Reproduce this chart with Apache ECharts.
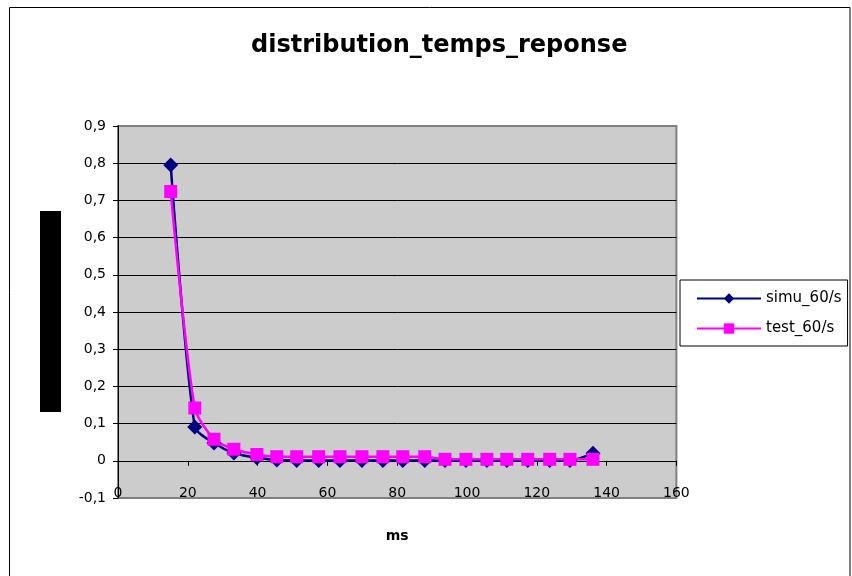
<!DOCTYPE html>
<html>
<head>
<meta charset="utf-8">
<title>distribution_temps_reponse</title>
<script src="https://cdn.jsdelivr.net/npm/echarts@6/dist/echarts.min.js"></script>
<style>
  html, body { margin: 0; padding: 0; background: #ffffff; }
  #chart { width: 852px; height: 576px; }
</style>
</head>
<body>
<div id="chart"></div>
<script>
// Response time bins (ms)
const responseTimes = [15.1, 22.0, 27.5, 33.2, 39.8, 45.5, 51.2, 57.5, 63.6, 69.9, 75.9,
  81.6, 87.9, 93.7, 99.7, 105.7, 111.4, 117.4, 123.7, 129.5, 136.1];

// Share of requests per bin
const simu60 = [0.795, 0.091, 0.048, 0.021, 0.008, 0.002, 0.001, 0.001, 0.001, 0.001, 0.001,
  0.001, 0.001, 0.001, 0.001, 0.001, 0.001, 0.001, 0.001, 0.001, 0.020];
const test60 = [0.724, 0.142, 0.058, 0.031, 0.017, 0.011, 0.011, 0.011, 0.011, 0.011, 0.011,
  0.011, 0.011, 0.004, 0.004, 0.004, 0.004, 0.004, 0.004, 0.004, 0.004];

const seriesNames = ['simu_60/s', 'test_60/s'];
const titleText = 'distribution_temps_reponse';
const xAxisTitle = 'ms';

const toPairs = (ys) => responseTimes.map((x, i) => [x, ys[i]]);
const fmtDecimal = (v) => {
  const r = Math.round(v * 10) / 10;
  return r === 0 ? '0' : r.toFixed(1).replace('.', ',');
};

const labelFont = 'DejaVu Sans, sans-serif';
const chart = echarts.init(document.getElementById('chart'), null, { renderer: 'canvas' });

chart.setOption({
  backgroundColor: '#ffffff',
  animation: false,
  title: {
    text: titleText,
    left: 251,
    top: 34,
    padding: 0,
    textStyle: { fontFamily: 'DejaVu Sans, sans-serif', fontWeight: 'bold', fontSize: 24, color: '#000' }
  },
  legend: {
    orient: 'vertical',
    left: 680,
    top: 280,
    padding: [11, 6, 10, 16],
    itemWidth: 64,
    itemHeight: 13,
    itemGap: 15,
    borderColor: '#000',
    borderWidth: 1,
    borderRadius: 0,
    textStyle: { fontFamily: labelFont, fontSize: 15, color: '#000' },
    data: seriesNames
  },
  grid: {
    left: 118,
    right: 175.6,
    top: 126,
    bottom: 78,
    show: true,
    backgroundColor: '#cccccc',
    borderColor: '#808080',
    borderWidth: 2
  },
  xAxis: [
    {
      type: 'value',
      min: 0,
      max: 160,
      interval: 20,
      name: xAxisTitle,
      nameLocation: 'middle',
      nameGap: 31,
      nameTextStyle: { fontFamily: labelFont, fontWeight: 'bold', fontSize: 14, color: '#000' },
      axisLine: { show: false, onZero: false },
      axisTick: { show: false },
      splitLine: { show: false },
      axisLabel: { margin: -12, fontFamily: labelFont, fontSize: 14, color: '#000' }
    },
    {
      type: 'value',
      min: 0,
      max: 160,
      interval: 20,
      position: 'bottom',
      axisLine: { show: true, onZero: true, lineStyle: { color: '#000', width: 1 } },
      axisTick: { show: true, length: 5, lineStyle: { color: '#000' } },
      axisLabel: { show: false },
      splitLine: { show: false }
    }
  ],
  yAxis: {
    type: 'value',
    min: -0.1,
    max: 0.9,
    interval: 0.1,
    axisLine: { show: true, onZero: false, lineStyle: { color: '#000', width: 1 } },
    axisTick: { show: true, length: 5, lineStyle: { color: '#000' } },
    axisLabel: { margin: 12, fontFamily: labelFont, fontSize: 14, color: '#000', formatter: fmtDecimal },
    splitLine: { show: true, showMinLine: false, showMaxLine: false, lineStyle: { color: '#000', width: 1 } }
  },
  series: [
    {
      name: seriesNames[0],
      type: 'line',
      xAxisIndex: 0,
      data: toPairs(simu60),
      smooth: 0.25,
      symbol: 'diamond',
      symbolSize: 15,
      lineStyle: { color: '#000080', width: 2.5 },
      itemStyle: { color: '#000080' }
    },
    {
      name: seriesNames[1],
      type: 'line',
      xAxisIndex: 0,
      data: toPairs(test60),
      smooth: 0.25,
      symbol: 'rect',
      symbolSize: 13,
      lineStyle: { color: '#ff00ff', width: 2.5 },
      itemStyle: { color: '#ff00ff' }
    }
  ],
  graphic: [
    // outer chart frame
    { type: 'rect', shape: { x: 9.5, y: 7.5, width: 840.5, height: 580 }, style: { fill: 'none', stroke: '#000', lineWidth: 1 }, silent: true, z: -1 },
    // y-axis title block
    { type: 'rect', shape: { x: 40, y: 211, width: 21, height: 201 }, style: { fill: '#000' }, silent: true }
  ]
});
</script>
</body>
</html>
